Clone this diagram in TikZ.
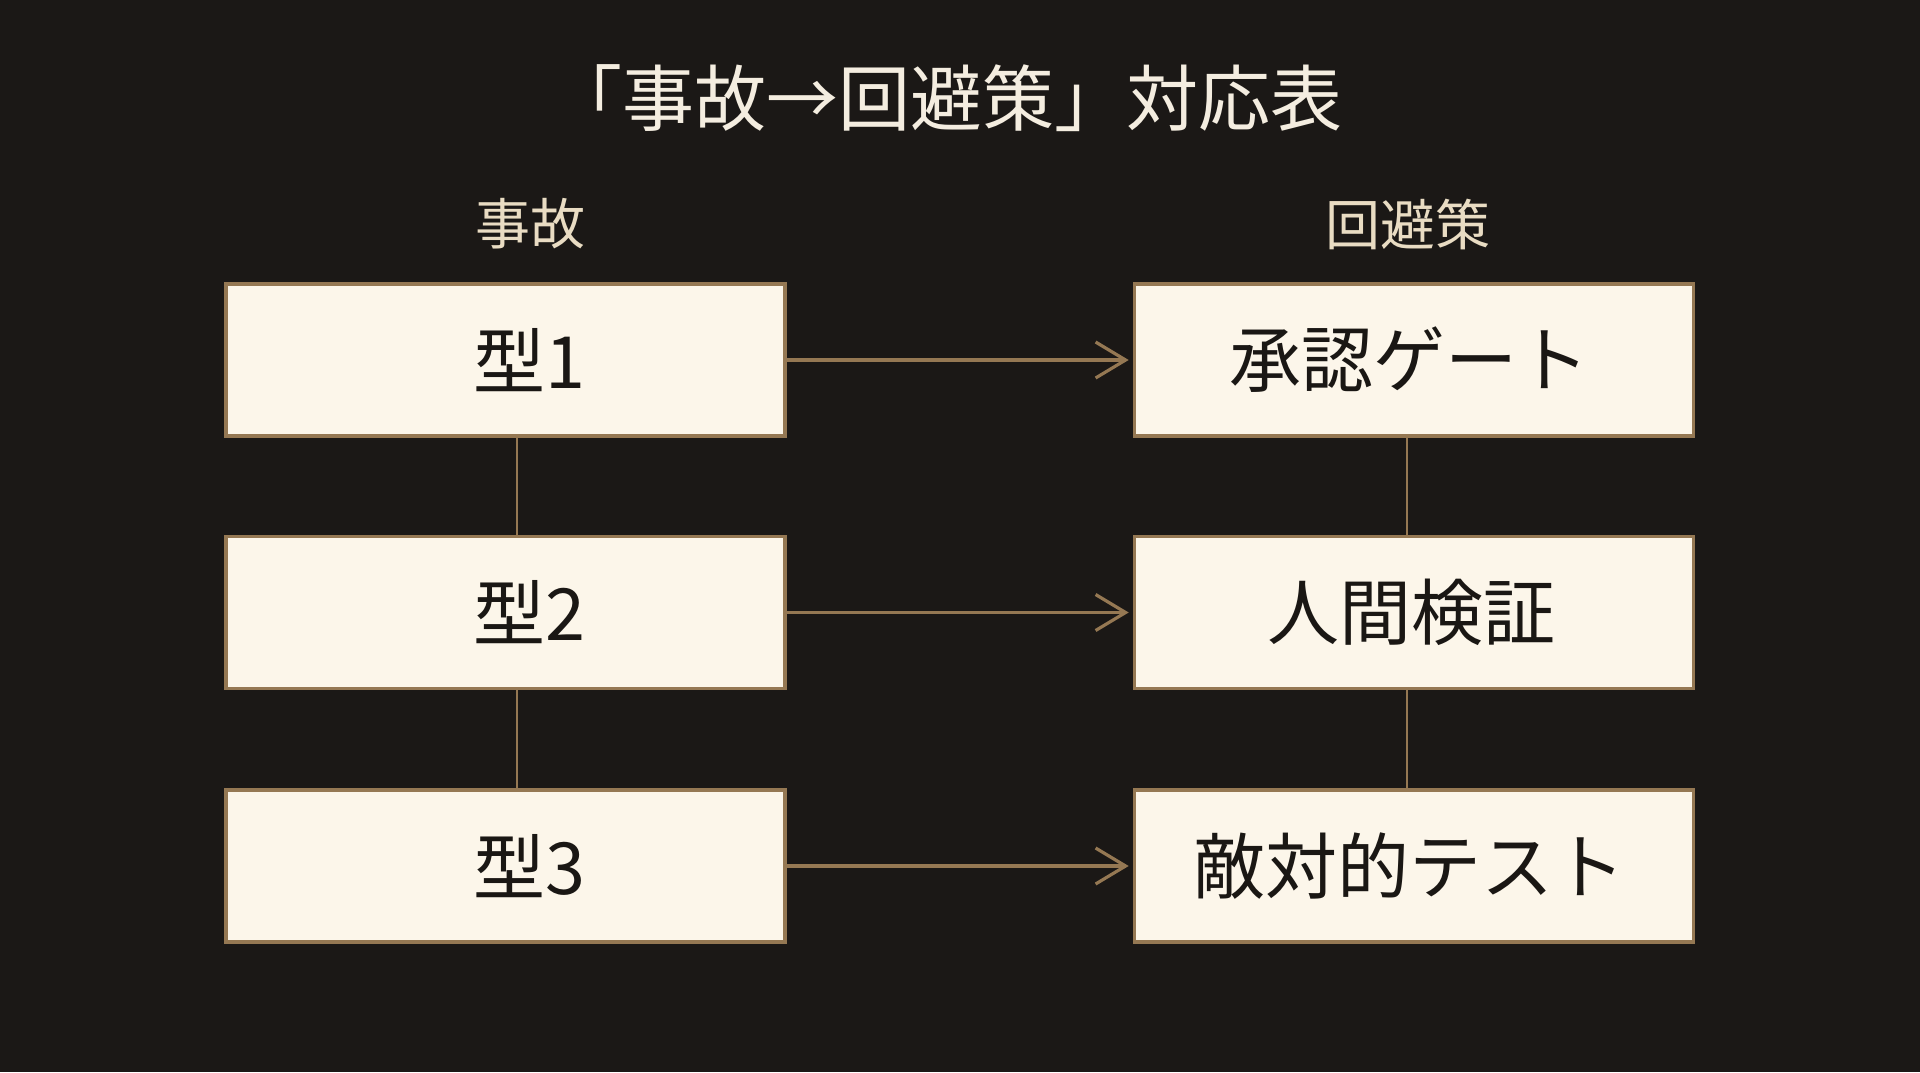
\documentclass[tikz,border=0pt]{standalone}
\usepackage{fontspec}
\usetikzlibrary{arrows.meta}
\newfontfamily\jp{Noto Sans CJK JP}
\definecolor{bgc}{HTML}{1B1816}
\definecolor{boxfill}{HTML}{FCF6EA}
\definecolor{edge}{HTML}{957853}
\definecolor{titlec}{HTML}{F4EDE0}
\definecolor{headc}{HTML}{E9DCC3}
\definecolor{inkc}{HTML}{1A1714}
\tikzset{
  cell/.style={draw=edge, line width=1.8pt, fill=boxfill, minimum width=279.5pt, minimum height=76pt, inner sep=0pt},
  celltext/.style={text=inkc, font=\jp\fontsize{36}{42}\selectfont, inner sep=0pt},
  head/.style={text=headc, font=\jp\fontsize{27.5}{32}\selectfont, inner sep=0pt},
  link/.style={draw=edge, line width=1.2pt},
  arr/.style={draw=edge, line width=1.6pt, -{Straight Barb[length=15pt, width=18pt, line width=1.6pt]}, shorten >=2pt}
}
\begin{document}
\begin{tikzpicture}[x=0.5pt, y=-0.5pt]
\fill[bgc] (0,0) rectangle (1920,1072);
\useasboundingbox (0,0) rectangle (1920,1072);
\node[text=titlec, font=\jp\fontsize{36}{42}\selectfont, inner sep=0pt] (title) at (946,98) {「事故→回避策」対応表};
\node[head] (hl) at (530,224) {事故};
\node[head] (hr) at (1408,224) {回避策};
\node[cell] (L1) at (505.5,360) {};
\node[cell] (L2) at (505.5,612.5) {};
\node[cell] (L3) at (505.5,866) {};
\node[cell] (R1) at (1414,360) {};
\node[cell] (R2) at (1414,612.5) {};
\node[cell] (R3) at (1414,866) {};
\node[celltext] (tl1) at (529,360) {型1};
\node[celltext] (tl2) at (529,612.5) {型2};
\node[celltext] (tl3) at (529,866) {型3};
\node[celltext] (tr1) at (1409,360) {承認ゲート};
\node[celltext] (tr2) at (1411,612.5) {人間検証};
\node[celltext] (tr3) at (1409,866) {敵対的テスト};
\draw[link] ([xshift=5.75pt]L1.south) -- ([xshift=5.75pt]L2.north);
\draw[link] ([xshift=5.75pt]L2.south) -- ([xshift=5.75pt]L3.north);
\draw[link] ([xshift=-3.5pt]R1.south) -- ([xshift=-3.5pt]R2.north);
\draw[link] ([xshift=-3.5pt]R2.south) -- ([xshift=-3.5pt]R3.north);
\draw[arr] (L1.east) -- (R1.west);
\draw[arr] (L2.east) -- (R2.west);
\draw[arr] (L3.east) -- (R3.west);
\end{tikzpicture}
\end{document}
